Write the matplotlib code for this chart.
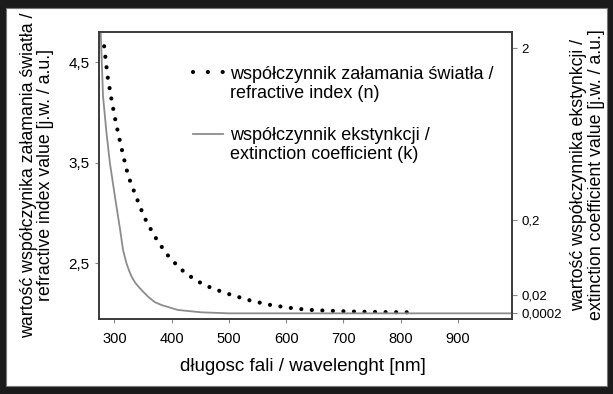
import numpy as np
import matplotlib
matplotlib.use('Agg')
import matplotlib.pyplot as plt
from matplotlib.lines import Line2D
from matplotlib.patches import Rectangle
from matplotlib.ticker import FixedLocator, FuncFormatter, NullLocator

plt.rcParams['font.family'] = ['Liberation Sans', 'DejaVu Sans']

# refractive index n vs wavelength [nm]
wl_n = [282, 288, 294, 300, 307, 315, 324, 338, 352, 369, 390, 414, 442,
        471, 502, 534, 568, 605, 638, 675, 710, 745, 780, 826]
n_val = [4.66, 4.36, 4.16, 3.97, 3.78, 3.58, 3.37, 3.16, 2.96, 2.78, 2.60,
         2.45, 2.33, 2.25, 2.19, 2.135, 2.09, 2.058, 2.037, 2.028, 2.021,
         2.017, 2.014, 2.012]

# extinction coefficient k vs wavelength [nm]
wl_k = [274, 276, 280, 286, 292, 301, 310, 315, 321, 326, 330, 336, 342, 350,
        359, 370, 382, 411, 452, 500, 600, 800, 995]
k_val = [2.5, 2.17, 1.5, 1.12, 0.80, 0.44, 0.176, 0.128, 0.096, 0.077, 0.064,
         0.050, 0.040, 0.028, 0.018, 0.0125, 0.0092, 0.0038, 0.0013, 0.0002,
         0.0002, 0.0002, 0.0002]

wl_ticks = [300, 400, 500, 600, 700, 800, 900]
n_ticks = [2.5, 3.5, 4.5]
k_ticks = [0.0002, 0.02, 0.2, 2]

# k axis is stretched piecewise between the labelled values
k_anchor = [0, 0.0002, 0.02, 0.2, 2, 10]
k_frac = [0, 0.018, 0.082, 0.343, 0.942, 3.604]


def k_fwd(k):
    return np.interp(k, k_anchor, k_frac)


def k_inv(f):
    return np.interp(f, k_frac, k_anchor)


def comma(v, pos=None):
    return ('%g' % v).replace('.', ',')


W, H = 613, 394
fig = plt.figure(figsize=(W / 100, H / 100), dpi=100, facecolor='#1b1b1b')
fig.add_artist(Rectangle((6 / W, 8 / H), 601 / W, 378 / H, transform=fig.transFigure,
                         facecolor='white', edgecolor='#777777', lw=0.8, zorder=-1))

ax = fig.add_axes([99 / W, 75.5 / H, 413.3 / W, 286.8 / H])
ax.plot(wl_n, n_val, color='black', lw=3, ls=(0, (0.01, 2.52)),
        dash_capstyle='round')
ax.set_xlim(273, 995)
ax.set_ylim(1.951, 4.805)
ax.set_xticks(wl_ticks)
ax.yaxis.set_major_locator(FixedLocator(n_ticks))
ax.yaxis.set_major_formatter(FuncFormatter(lambda v, p: ('%.1f' % v).replace('.', ',')))

ax2 = ax.twinx()
ax2.set_yscale('function', functions=(k_fwd, k_inv))
ax2.plot(wl_k, k_val, color='#8c8c8c', lw=1.3)
ax2.set_ylim(0, float(k_inv(1.0)))
ax2.yaxis.set_major_locator(FixedLocator(k_ticks))
ax2.yaxis.set_major_formatter(FuncFormatter(comma))
ax2.yaxis.set_minor_locator(NullLocator())

for a in (ax, ax2):
    for sp in a.spines.values():
        sp.set_color('#3a3a3a')
        sp.set_linewidth(1.2)

ax.tick_params(axis='x', direction='out', length=3, width=0.8, color='#888888',
               labelsize=10.5, pad=7)
ax.tick_params(axis='y', direction='out', length=3, width=0.8, color='#888888',
               labelsize=11, pad=4)
ax2.tick_params(axis='y', direction='out', length=3.5, width=0.8, color='#888888',
                labelsize=9.5, pad=3)

ax.set_xlabel('długosc fali / wavelenght [nm]', fontsize=13.5)
ax.xaxis.set_label_coords(0.4936, -0.1377)
ax.set_ylabel('wartość współczynika załamania światła /\nrefractive index value [j.w. / a.u.]',
              fontsize=12.8, linespacing=1.05)
ax.yaxis.set_label_coords(-0.108, 0.5)
ax2.set_ylabel('wartość współczynnika ekstynkcji /\nextinction coefficient value [j.w. / a.u.]',
               fontsize=12.8, linespacing=1.05)
ax2.yaxis.set_label_coords(1.140, 0.5)

# legend: two-line labels, handle next to the first line of each entry
dots_h = Line2D([], [], color='black', lw=3, ls=(0, (0.01, 3.55)), dash_capstyle='round')
line_h = Line2D([], [], color='#8c8c8c', lw=1.3)
blank = Line2D([], [], ls='none')
leg = ax2.legend([dots_h, blank, blank, line_h, blank],
                 ['współczynnik załamania światła /', 'refractive index (n)', ' ',
                  'współczynnik ekstynkcji /', 'extinction coefficient (k)'],
                 loc='upper left', bbox_to_anchor=(0.2274, 0.882), frameon=False,
                 fontsize=13, handlelength=1.66, handletextpad=0.39,
                 labelspacing=0.12, borderpad=0, borderaxespad=0)
# a taller spacer row between the two entries
leg.get_texts()[2].set_fontsize(16)

fig.savefig('out.png', dpi=100, facecolor=fig.get_facecolor())
